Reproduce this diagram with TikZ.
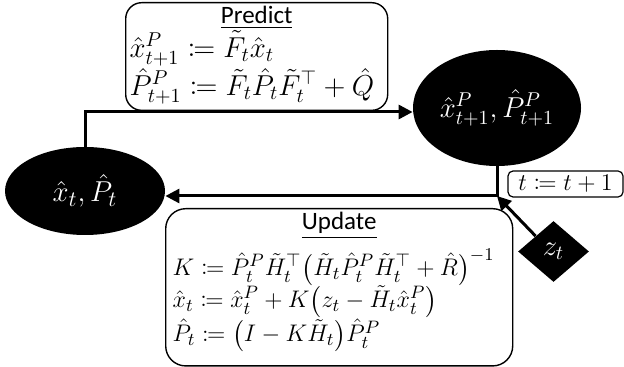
\documentclass[tikz,border=0pt]{standalone}
\usepackage{amsmath,amssymb,mathtools}
\usepackage{fontspec}
\setmainfont{Carlito}
\usetikzlibrary{arrows.meta,positioning,shapes.geometric}

\newcommand{\headline}[1]{\rule{0pt}{9pt}%
  \makebox[\linewidth]{\fontsize{12.5}{12.5}\selectfont\underline{#1}}}

\begin{document}
\begin{tikzpicture}[x=0.5pt,y=-0.5pt,
  state/.style={ellipse, fill=black, text=white, inner sep=0pt},
  stepbox/.style={draw, rounded corners=8pt, align=left, line width=0.7pt,
                  inner xsep=2pt, inner ysep=1.5pt, anchor=north west},
  obs/.style={diamond, fill=black, text=white, inner sep=0pt, aspect=1.15,
              minimum width=35.5pt, minimum height=30.5pt,
              font=\fontsize{14}{16}\selectfont},
  lab/.style={draw, rounded corners=2.5pt, line width=0.6pt, inner sep=1pt,
              minimum width=57.5pt, minimum height=13pt,
              font=\fontsize{12.5}{14}\selectfont},
  flow/.style={-{Triangle[length=7pt, width=7pt]}, line width=1.5pt}
]
  \useasboundingbox (0,0) rectangle (624,367);

  % States
  \node[state, minimum width=80pt, minimum height=44pt,
        font=\fontsize{15}{18}\selectfont] (cur) at (85,191)
    {$\hat{x}_t, \hat{P}_t$};
  \node[state, minimum width=84pt, minimum height=58pt,
        font=\fontsize{14.5}{18}\selectfont] (prd) at (497,108)
    {$\hat{x}^P_{t+1}, \hat{P}^P_{t+1}$};

  % Step boxes
  \node[stepbox, text width=127pt, font=\fontsize{14.5}{15.5}\selectfont] (pred) at (125,2)
    {\headline{Predict}\\
     $\hat{x}^P_{t+1} \coloneqq \tilde{F}_t \hat{x}_t$\\
     $\hat{P}^P_{t+1} \coloneqq \tilde{F}_t \hat{P}_t \tilde{F}_t^{\top} + \hat{Q}$\rule[-6pt]{0pt}{1pt}};
  \node[stepbox, text width=166.5pt, inner xsep=3.5pt, rounded corners=10pt,
        font=\fontsize{13}{16}\selectfont] (upd) at (165,208)
    {\headline{Update}\\[4pt]
     $K \coloneqq \hat{P}^P_t \tilde{H}^{\top}_t \bigl(\tilde{H}_t \hat{P}^P_t \tilde{H}^{\top}_t + \hat{R}\bigr)^{-1}$\\
     $\hat{x}_t \coloneqq \hat{x}^P_t + K\bigl(z_t - \tilde{H}_t \hat{x}^P_t\bigr)$\\
     $\hat{P}_t \coloneqq \bigl(I - K\tilde{H}_t\bigr)\hat{P}^P_t$\rule[-10.5pt]{0pt}{1pt}};

  % Measurement and time step
  \node[obs] (meas) at (553.5,251.5) {$z_t$};
  \node[lab] (tick) at (565.5,184) {$t \coloneqq t+1$};
  \coordinate (join) at (497,196);

  % Cycle
  \draw[flow] (cur.north) |- (prd.west |- 0,112);
  \draw[flow] (prd.south) -- (join) -- (cur.east |- join);
  \draw[flow] (meas.north west) -- (join);
\end{tikzpicture}
\end{document}
